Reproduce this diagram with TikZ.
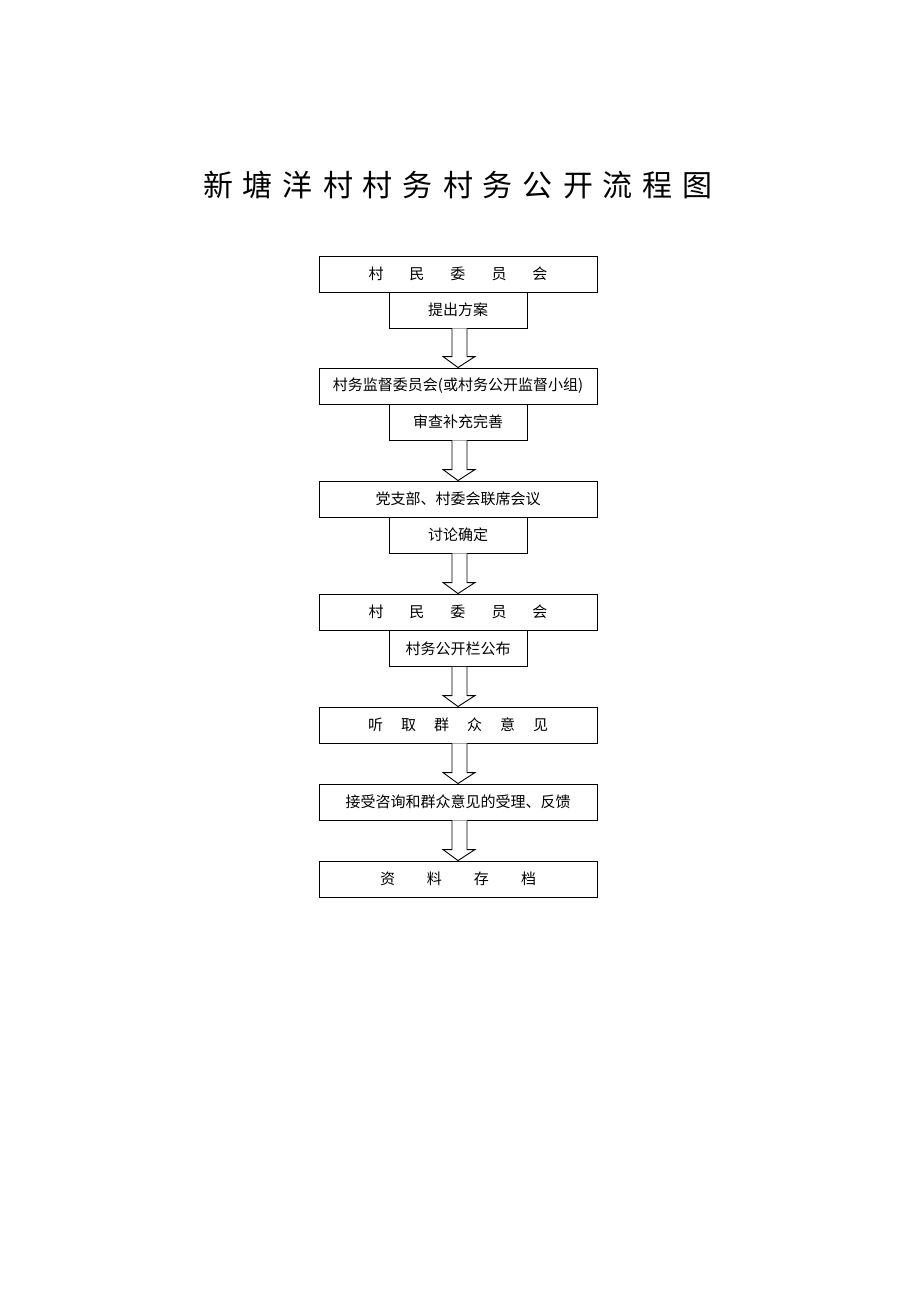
\documentclass[tikz,border=0pt]{standalone}
\usepackage{fontspec}
\setmainfont{Noto Sans CJK SC}
\usetikzlibrary{calc}
\tikzset{
  mainbox/.style={draw=black, line width=0.9pt, minimum width=278pt, minimum height=36pt, inner sep=0pt, font=\fontsize{15}{15}\selectfont},
  subbox/.style={draw=black, line width=0.9pt, minimum width=138pt, minimum height=36pt, inner sep=0pt, font=\fontsize{15}{15}\selectfont},
  arrowline/.style={draw=black, line width=0.9pt, fill=white, line join=miter},
  titlestyle/.style={font=\fontsize{30}{30}\selectfont, inner sep=0pt}
}
\newcommand{\fatarr}[2]{\draw[arrowline] ($(#1.south)+(-6,0)$) -- ($(#2.north)+(-6,-11)$) -- ($(#2.north)+(-15,-11)$) -- (#2.north) -- ($(#2.north)+(17,-11)$) -- ($(#2.north)+(9,-11)$) -- ($(#1.south)+(9,0)$);}
\newcommand{\gp}[1]{\hspace{#1pt}}
\begin{document}
\begin{tikzpicture}[x=1pt,y=-1pt]
\useasboundingbox (0,0) rectangle (920,1302);
\fill[white] (0,0) rectangle (920,1302);
\node[titlestyle] (title) at (458,185) {新\gp{10}塘\gp{10}洋\gp{10}村\gp{10}村\gp{10}务\gp{10}村\gp{10}务\gp{10}公\gp{10}开\gp{10}流\gp{10}程\gp{10}图};
% boxes
\node[mainbox] (b1) at (458,274) {村\gp{26}民\gp{26}委\gp{26}员\gp{26}会};
\node[subbox] (s1) at (458,310) {提出方案};
\node[mainbox] (b2) at (458,386) {村务监督委员会(或村务公开监督小组)};
\node[subbox] (s2) at (458,422) {审查补充完善};
\node[mainbox] (b3) at (458,499) {党支部、村委会联席会议};
\node[subbox] (s3) at (458,535) {讨论确定};
\node[mainbox] (b4) at (458,612) {村\gp{26}民\gp{26}委\gp{26}员\gp{26}会};
\node[subbox] (s4) at (458,648.5) {村务公开栏公布};
\node[mainbox] (b5) at (458,725) {听\gp{18}取\gp{18}群\gp{18}众\gp{18}意\gp{18}见};
\node[mainbox] (b6) at (458,802) {接受咨询和群众意见的受理、反馈};
\node[mainbox] (b7) at (458,879) {资\gp{32}料\gp{32}存\gp{32}档};
% arrows
\fatarr{s1}{b2}
\fatarr{s2}{b3}
\fatarr{s3}{b4}
\fatarr{s4}{b5}
\fatarr{b5}{b6}
\fatarr{b6}{b7}
\end{tikzpicture}
\end{document}
